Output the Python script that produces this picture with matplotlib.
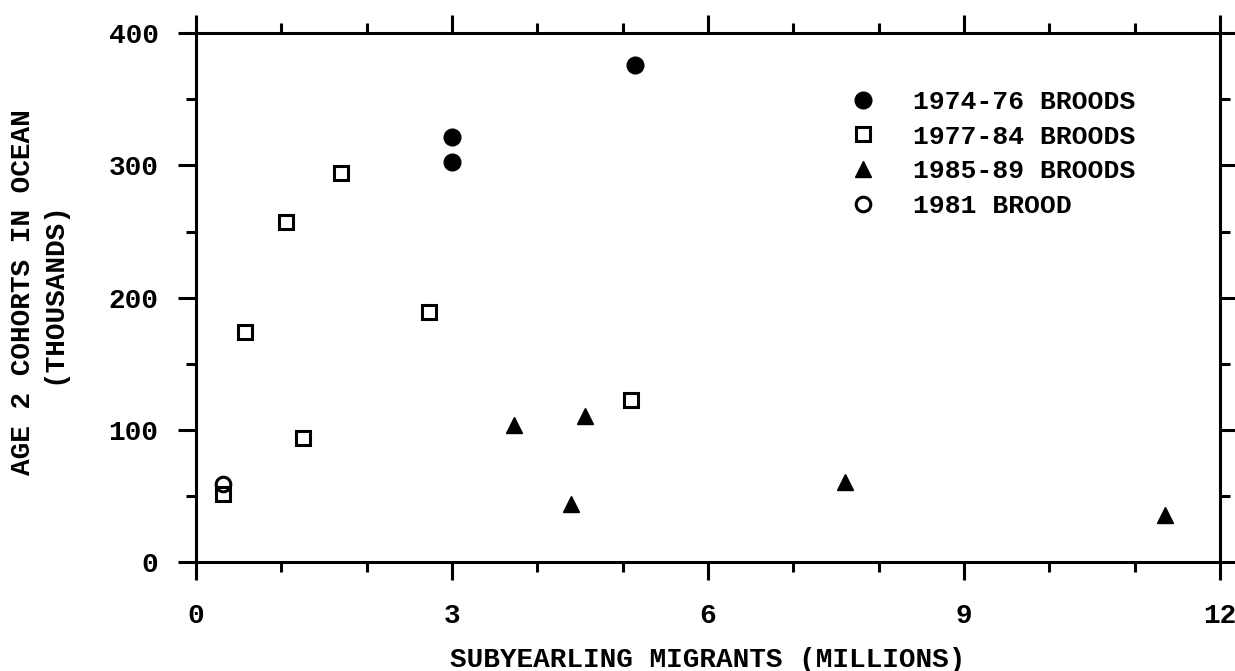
import matplotlib.pyplot as plt
from matplotlib.ticker import MultipleLocator

# brood groups, x = subyearling migrants (millions), y = age 2 cohorts (thousands)
broods_7476_x = [3.0, 3.0, 5.14]
broods_7476_y = [321.6, 302.7, 376]
broods_7784_x = [0.32, 0.58, 1.06, 1.25, 1.70, 2.73, 5.10]
broods_7784_y = [52, 174, 257, 94, 294, 189, 123]
broods_8589_x = [3.73, 4.40, 4.56, 7.61, 11.36]
broods_8589_y = [104, 44, 111, 61, 36]
brood_1981_x = [0.32]
brood_1981_y = [59]

labels = ['1974-76 BROODS', '1977-84 BROODS', '1985-89 BROODS', '1981 BROOD']

plt.rcParams['font.family'] = ['Liberation Mono', 'DejaVu Sans Mono']
plt.rcParams['font.weight'] = 'bold'

fig = plt.figure(figsize=(12.35, 6.71), dpi=100)
ax = fig.add_axes([0.1587, 0.1617, 0.8292, 0.7891])

lw = 2.2
ax.plot(broods_7476_x, broods_7476_y, 'o', color='black', ms=12, label=labels[0])
ax.plot(broods_7784_x, broods_7784_y, 's', mfc='white', mec='black', mew=lw, ms=10, label=labels[1])
ax.plot(broods_8589_x, broods_8589_y, '^', color='black', ms=12, label=labels[2])
ax.plot(brood_1981_x, brood_1981_y, 'o', mfc='none', mec='black', mew=lw, ms=10.5, label=labels[3])

ax.set_xlim(0, 12)
ax.set_ylim(0, 400)
ax.xaxis.set_major_locator(MultipleLocator(3))
ax.xaxis.set_minor_locator(MultipleLocator(1))
ax.yaxis.set_major_locator(MultipleLocator(100))
ax.yaxis.set_minor_locator(MultipleLocator(50))

for s in ax.spines.values():
    s.set_linewidth(lw)
ax.tick_params(which='both', direction='out', top=True, right=True, width=lw)
ax.tick_params(which='major', length=13, labelsize=20, pad=14)
ax.tick_params(axis='x', which='major', pad=16)
ax.tick_params(which='minor', length=7)
for t in ax.get_xticklabels() + ax.get_yticklabels():
    t.set_fontweight('bold')

ax.set_xlabel('SUBYEARLING MIGRANTS (MILLIONS)', fontsize=20, fontweight='bold', labelpad=13)
ax.set_ylabel('AGE 2 COHORTS IN OCEAN\n(THOUSANDS)', fontsize=20, fontweight='bold', labelpad=28)
ax.yaxis.set_label_coords(-0.127, 0.51)

ax.legend(loc='upper left', bbox_to_anchor=(0.615, 0.937), frameon=False, numpoints=1,
          handlelength=1.0, handletextpad=1.4, labelspacing=0.4,
          prop={'size': 19, 'weight': 'bold'})

fig.savefig('out.png', dpi=100)
